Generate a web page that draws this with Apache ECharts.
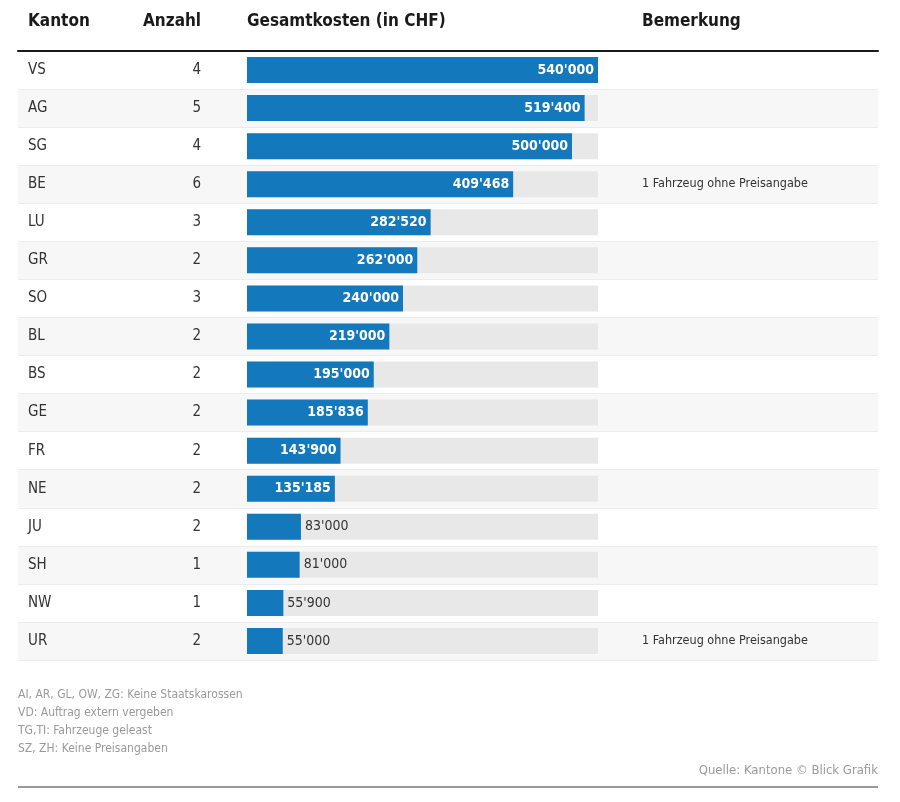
<!DOCTYPE html>
<html>
<head>
<meta charset="utf-8">
<script src="https://cdn.jsdelivr.net/npm/echarts@6/dist/echarts.min.js"></script>
<style>html,body{margin:0;padding:0;background:#fff}#c{width:900px;height:802px}</style>
</head>
<body>
<div id="c"></div>
<script>
const cantons = ['VS','AG','SG','BE','LU','GR','SO','BL','BS','GE','FR','NE','JU','SH','NW','UR'];
const counts = [4,5,4,6,3,2,3,2,2,2,2,2,2,1,1,2];
const costs = [540000,519400,500000,409468,282520,262000,240000,219000,195000,185836,143900,135185,83000,81000,55900,55000];
const remarks = ['','','','1 Fahrzeug ohne Preisangabe','','','','','','','','','','','','1 Fahrzeug ohne Preisangabe'];
const headers = ['Kanton','Anzahl','Gesamtkosten (in CHF)','Bemerkung'];
const footnotes = ['AI, AR, GL, OW, ZG: Keine Staatskarossen','VD: Auftrag extern vergeben','TG,TI: Fahrzeuge geleast','SZ, ZH: Keine Preisangaben'];
const source = 'Quelle: Kantone \u00a9 Blick Grafik';
const maxCost = 540000;

const FONT = '"Liberation Sans Narrow","DejaVu Sans Condensed",sans-serif';
const fmt = v => String(v).replace(/\B(?=(\d{3})+(?!\d))/g, "'");

const chart = echarts.init(document.getElementById('c'), null, {renderer:'canvas'});
const barData = costs.map(v => ({
  value: v,
  label: v >= 100000
    ? {position:'insideRight', color:'#fff', fontWeight:'bold', distance:4}
    : {position:'right', color:'#333', fontWeight:'normal', distance:4}
}));
const headStyle = {fontFamily:FONT,fontSize:17,fontWeight:'bold',color:'#1a1a1a'};

chart.setOption({
  animation:false,
  title:[
    {text:headers[0], left:28, top:13, padding:0, textStyle:headStyle},
    {text:headers[1], left:143, top:13, padding:0, textStyle:headStyle},
    {text:headers[2], left:247, top:13, padding:0, textStyle:headStyle},
    {text:headers[3], left:642, top:13, padding:0, textStyle:headStyle},
    {text:footnotes.join('\n'), left:18, top:686, padding:0, textStyle:{fontFamily:FONT,fontSize:12,fontWeight:'normal',color:'#9a9a9a',lineHeight:18}},
    {text:source, right:22, top:764, padding:0, textStyle:{fontFamily:FONT,fontSize:13,fontWeight:'normal',color:'#9a9a9a'}}
  ],
  grid:[
    {left:247, right:302, top:51, bottom:142},
    {left:18, right:22, top:51, bottom:142}
  ],
  xAxis:[
    {gridIndex:0, type:'value', min:0, max:maxCost, show:false},
    {gridIndex:1, type:'value', min:0, max:1, position:'top',
     axisLine:{show:true, onZero:false, lineStyle:{color:'#1a1a1a', width:2}},
     axisTick:{show:false}, axisLabel:{show:false}, splitLine:{show:false}}
  ],
  yAxis:[
    {gridIndex:0, type:'category', data:cantons, inverse:true,
     axisLine:{show:false}, axisTick:{show:false},
     axisLabel:{margin:219, align:'left', fontFamily:FONT, fontSize:15, color:'#333',
       formatter:(v,i)=>'{k|'+v+'}{a|'+counts[i]+'}',
       rich:{k:{width:150, align:'left', fontFamily:FONT, fontSize:15, color:'#333'},
             a:{width:23, align:'right', fontFamily:FONT, fontSize:15, color:'#333'}}}},
    {gridIndex:0, type:'category', data:cantons, inverse:true, position:'right',
     axisLine:{show:false}, axisTick:{show:false},
     axisLabel:{margin:44, align:'left', fontFamily:FONT, fontSize:12.5, color:'#333',
       formatter:(v,i)=>remarks[i]}},
    {gridIndex:1, type:'category', data:cantons, inverse:true, show:true,
     axisLine:{show:false}, axisTick:{show:false}, axisLabel:{show:false},
     splitLine:{show:true, lineStyle:{color:'#ececec', width:1}},
     splitArea:{show:true, areaStyle:{color:['#ffffff','#f7f7f7']}}}
  ],
  series:[
    {type:'bar', xAxisIndex:0, yAxisIndex:0, data:costs.map(()=>maxCost), barWidth:26,
     barGap:'-100%', silent:true, itemStyle:{color:'#e8e8e8'}, z:1},
    {type:'bar', xAxisIndex:0, yAxisIndex:0, data:barData, barWidth:26, barGap:'-100%',
     itemStyle:{color:'#1478bc'}, z:2,
     label:{show:true, fontFamily:FONT, fontSize:14, formatter:p=>fmt(p.value)}}
  ],
  graphic:[
    {type:'line', shape:{x1:18,y1:787,x2:878,y2:787}, style:{stroke:'#999',lineWidth:2}}
  ]
});
</script>
</body>
</html>
